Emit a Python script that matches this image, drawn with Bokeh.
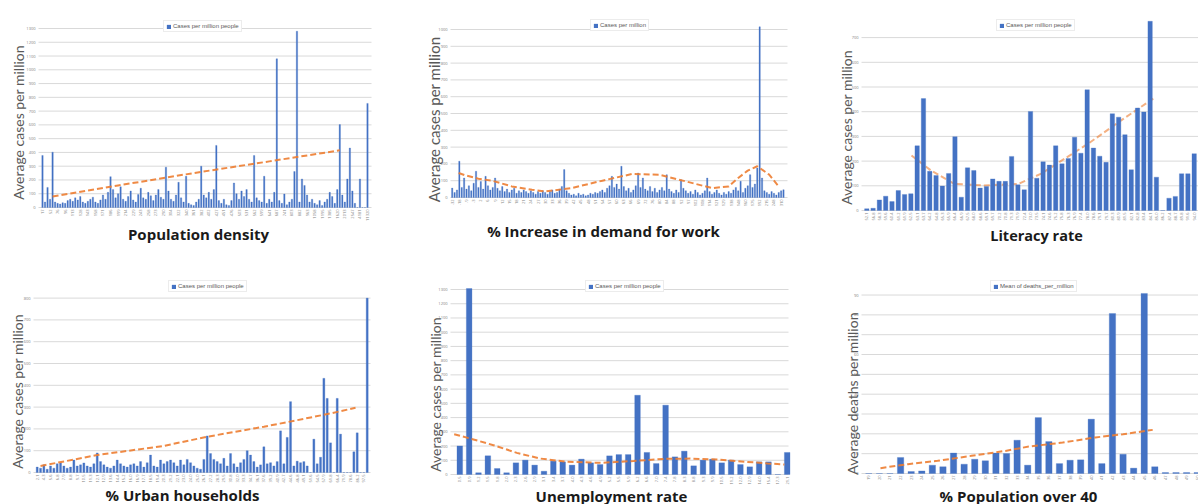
import numpy as np
from bokeh.plotting import figure
from bokeh.layouts import row, column
from bokeh.models import Range1d
from bokeh.core.properties import value
from bokeh.embed import file_html
from bokeh.resources import INLINE

# ---------------- DATA ----------------
POP_DENSITY_CASES = [
    378, 40, 146, 60, 402, 40, 30, 25, 35, 30, 50, 60, 45, 70, 55, 80, 40, 30, 45, 60,
    75, 40, 30, 55, 90, 60, 110, 224, 130, 70, 100, 150, 60, 45, 80, 120, 55, 40, 95, 140,
    70, 60, 110, 85, 50, 90, 130, 75, 60, 293, 120, 60, 45, 90, 183, 70, 40, 227, 30, 20,
    15, 40, 60, 300, 90, 70, 110, 60, 130, 451, 50, 30, 60, 20, 15, 50, 178, 100, 60, 120,
    80, 130, 60, 40, 378, 70, 50, 40, 227, 30, 60, 40, 110, 1080, 50, 30, 98, 20, 40, 60,
    261, 1280, 40, 207, 160, 90, 40, 60, 30, 20, 50, 15, 40, 60, 110, 80, 30, 130, 602, 90,
    40, 207, 432, 120, 30, 0, 207, 0, 0, 756]
POP_DENSITY_LABELS = [
    "17", "52", "76", "96", "113", "128", "143", "158", "171", "186", "199", "214", "229",
    "243", "258", "273", "290", "304", "322", "340", "361", "382", "402", "427", "451",
    "476", "503", "531", "562", "599", "641", "687", "741", "803", "882", "963", "1058",
    "1195", "1385", "1620", "2013", "2547", "4181", "11320"]
POP_TREND_X = [4, 30, 60, 90, 118]
POP_TREND_Y = [80, 160, 250, 335, 415]

WORK_CASES = [
    56, 30, 45, 216, 60, 116, 50, 70, 40, 85, 156, 60, 95, 50, 126, 70, 45, 60, 116, 55,
    40, 65, 35, 50, 30, 45, 55, 25, 40, 30, 45, 35, 25, 40, 30, 20, 35, 25, 40, 30,
    20, 35, 45, 25, 30, 50, 66, 166, 40, 25, 15, 20, 10, 25, 15, 20, 10, 15, 25, 20,
    30, 25, 35, 45, 30, 55, 70, 126, 60, 80, 50, 186, 65, 40, 55, 30, 45, 70, 146, 60,
    116, 50, 40, 65, 35, 55, 30, 45, 60, 40, 136, 50, 35, 25, 45, 30, 106, 55, 40, 25,
    35, 20, 45, 30, 15, 25, 40, 116, 35, 20, 30, 45, 25, 15, 30, 20, 35, 25, 45, 60,
    40, 96, 30, 55, 70, 136, 60, 80, 176, 1016, 116, 40, 30, 20, 35, 25, 15, 30, 40, 46]
WORK_LABELS = [
    "-32", "-18", "-9", "-3", "2", "6", "9", "12", "15", "18", "21", "24", "27", "30",
    "33", "36", "39", "42", "45", "48", "51", "54", "57", "60", "63", "66", "69", "72",
    "76", "80", "84", "88", "92", "97", "102", "108", "114", "121", "129", "138", "148",
    "160", "175", "192", "215", "248", "310"]
WORK_TREND_X = [2.7, 5.5, 11, 16.7, 25, 33.5, 39, 50, 63, 75.5, 86.7, 98, 109, 116, 120, 124, 128, 133, 137]
WORK_TREND_Y = [146, 132, 112, 100, 66, 46, 36, 56, 100, 140, 136, 96, 56, 66, 116, 160, 186, 136, 66]

LITERACY_CASES = [
    7, 9, 43, 58, 36, 81, 65, 68, 262, 453, 159, 142, 99, 150, 299, 54, 173, 162, 91, 97,
    128, 118, 118, 219, 104, 84, 401, 131, 197, 184, 262, 189, 211, 297, 232, 489, 253, 220,
    195, 392, 378, 307, 165, 415, 399, 766, 135, 0, 50, 57, 149, 149, 230]
LITERACY_LABELS = [
    "52.1", "56.8", "58.3", "59.6", "60.4", "61.2", "61.9", "62.5", "63.1", "63.7",
    "64.2", "64.8", "65.3", "65.9", "66.4", "66.9", "67.5", "68.0", "68.6", "69.1",
    "69.7", "70.2", "70.8", "71.3", "71.9", "72.4", "73.0", "73.5", "74.1", "74.6",
    "75.2", "75.8", "76.3", "76.9", "77.4", "78.0", "78.6", "79.1", "79.7", "80.3",
    "80.9", "81.5", "82.1", "82.8", "83.4", "84.1", "85.0", "86.2", "87.4", "88.7",
    "89.8", "91.6", "94.0"]
LITERACY_TREND_X = [7.1, 10.2, 13.9, 18.6, 24.1, 27.7, 35.3, 40.8, 45.5]
LITERACY_TREND_Y = [223, 162, 108, 101, 108, 149, 273, 372, 453]

URBAN_CASES = [
    25, 20, 35, 15, 30, 20, 40, 44, 30, 20, 25, 57, 30, 35, 44, 30, 25, 40, 90, 50,
    35, 25, 20, 30, 57, 40, 30, 25, 35, 40, 30, 50, 25, 45, 80, 30, 25, 57, 40, 50,
    57, 45, 30, 57, 35, 60, 45, 30, 20, 15, 60, 168, 87, 60, 50, 40, 65, 30, 87, 40,
    25, 45, 60, 100, 80, 50, 25, 35, 118, 40, 45, 30, 50, 191, 40, 161, 325, 30, 52, 45,
    50, 30, 0, 153, 40, 70, 432, 340, 136, 0, 340, 176, 0, 0, 0, 95, 182, 0, 0, 800]
URBAN_LABELS = [
    "2.1", "4.3", "5.6", "6.8", "7.9", "8.8", "9.7", "10.5", "11.3", "12.1", "12.9",
    "13.6", "14.4", "15.2", "16.0", "16.9", "17.7", "18.5", "19.4", "20.3", "21.2",
    "22.1", "23.0", "24.0", "25.0", "26.1", "27.2", "28.3", "29.5", "30.8", "32.0",
    "33.3", "34.7", "36.1", "37.6", "39.2", "40.9", "42.7", "44.6", "46.8", "49.1",
    "51.6", "54.5", "57.9", "61.8", "66.4", "71.9", "78.6", "86.2", "97.5"]
URBAN_TREND_X = [1, 18, 38, 51, 68, 78, 88, 95.5]
URBAN_TREND_Y = [30, 80, 122, 164, 210, 240, 271, 297]

UNEMP_CASES = [
    201, 1307, 12, 131, 42, 12, 82, 101, 66, 23, 94, 89, 66, 108, 82, 70, 131, 140,
    140, 557, 155, 77, 487, 124, 164, 61, 101, 108, 82, 101, 70, 54, 89, 89, 0, 155]
UNEMP_LABELS = [
    "0.5", "0.9", "1.2", "1.5", "1.8", "2.0", "2.3", "2.6", "2.9", "3.1", "3.4", "3.7",
    "4.0", "4.3", "4.6", "4.9", "5.2", "5.5", "5.9", "6.2", "6.6", "7.0", "7.4", "7.8",
    "8.3", "8.8", "9.3", "9.9", "10.5", "11.2", "12.0", "12.9", "14.0", "15.4", "17.3", "21.1"]
UNEMP_TREND_X = [-0.6, 1.1, 3.6, 6.1, 8.6, 11.5, 15.1, 18.6, 21.9, 24.7, 27.6, 30.4, 32.9, 34.7]
UNEMP_TREND_Y = [283, 253, 206, 152, 112, 89, 82, 95, 110, 112, 105, 90, 78, 70]

AGE40_DEATHS = [
    0, 0, 0, 8.1, 1.0, 1.3, 4.2, 3.4, 10.3, 4.7, 7.2, 6.4, 10.3, 10.1, 16.8, 4.2,
    28.2, 16.1, 5.0, 6.7, 6.9, 27.4, 5.0, 80.7, 9.7, 2.7, 90.8, 3.4, 0.5, 0.5, 0.5, 0.5]
AGE40_LABELS = [
    "19", "20", "21", "22", "23", "24", "25", "26", "27", "28", "29", "30", "31", "32",
    "33", "34", "35", "36", "37", "38", "39", "40", "41", "42", "43", "44", "45", "46",
    "47", "48", "49", "50"]
AGE40_TREND_X = [1.1, 3.7, 6.5, 9.7, 12.9, 15.1, 18.3, 21.4, 24, 26.8]
AGE40_TREND_Y = [2.7, 4.7, 6.4, 8.9, 11.4, 13.6, 15.6, 18.2, 19.8, 22.0]

# ---------------- LAYOUT / STYLE ----------------
BAR = "#4472C4"
TREND = "#ED7D31"
GRID = "#d9d9d9"
COLS = [(0, 400), (400, 798), (798, 1198)]
ROWS = [(0, 250), (250, 504)]

# plot = (left, right, baseline) window px; bars = first/last bar centre px
PANELS = [
    dict(row=0, col=0, vals=POP_DENSITY_CASES, labels=POP_DENSITY_LABELS, lstep=3,
         tx=POP_TREND_X, ty=POP_TREND_Y, plot=(38, 371, 207), bars=(42, 367),
         unit_px=13.77, ystep=100, ymax=1300, bw=0.55,
         ylab="Average cases per million", ypos=(18, 122), ysize="14px",
         legend="Cases per million people", lpos=(163, 32),
         title="Population density", tpos=(198, 233), tsize="15px", trend_front=True),
    dict(row=0, col=1, vals=WORK_CASES, labels=WORK_LABELS, lstep=3,
         tx=WORK_TREND_X, ty=WORK_TREND_Y, plot=(450, 787, 197), bars=(451.7, 783),
         unit_px=16.8, ystep=100, ymax=1000, bw=0.55,
         ylab="Average cases per million", ypos=(433, 119), ysize="15px",
         legend="Cases per million", lpos=(590, 31),
         title="% Increase in demand for work", tpos=(603, 230), tsize="15px", trend_front=True),
    dict(row=0, col=2, vals=LITERACY_CASES, labels=LITERACY_LABELS, lstep=1,
         tx=LITERACY_TREND_X, ty=LITERACY_TREND_Y, plot=(861, 1198, 210), bars=(866.3, 1193.7),
         unit_px=24.7, ystep=100, ymax=700, bw=0.7,
         ylab="Average cases per million", ypos=(846, 127), ysize="14px",
         legend="Cases per million people", lpos=(996, 31),
         title="Literacy rate", tpos=(1036, 235), tsize="14.5px", trend_front=False),
    dict(row=1, col=0, vals=URBAN_CASES, labels=URBAN_LABELS, lstep=2,
         tx=URBAN_TREND_X, ty=URBAN_TREND_Y, plot=(33, 370, 472), bars=(36.7, 366.7),
         unit_px=21.8, ystep=100, ymax=800, bw=0.6,
         ylab="Average cases per million", ypos=(17, 391), ysize="14px",
         legend="Cases per million people", lpos=(168, 292),
         title="% Urban households", tpos=(182, 494), tsize="15px", trend_front=True),
    dict(row=1, col=1, vals=UNEMP_CASES, labels=UNEMP_LABELS, lstep=1,
         tx=UNEMP_TREND_X, ty=UNEMP_TREND_Y, plot=(450, 788, 474), bars=(459.3, 786.7),
         unit_px=14.23, ystep=100, ymax=1300, bw=0.6,
         ylab="Average cases per million", ypos=(435, 394), ysize="14px",
         legend="Cases per million people", lpos=(585, 292),
         title="Unemployment rate", tpos=(611, 495), tsize="15px", trend_front=True),
    dict(row=1, col=2, vals=AGE40_DEATHS, labels=AGE40_LABELS, lstep=1,
         tx=AGE40_TREND_X, ty=AGE40_TREND_Y, plot=(861, 1198, 473), bars=(868.3, 1196.7),
         unit_px=19.83, ystep=10, ymax=90, bw=0.6,
         ylab="Average deaths per million", ypos=(852, 393), ysize="14px",
         legend="Mean of deaths_per_million", lpos=(990, 292),
         title="% Population over 40", tpos=(1018, 495), tsize="15px", trend_front=True),
]


def build(s):
    cx0, cx1 = COLS[s["col"]]
    cy0, cy1 = ROWS[s["row"]]
    x0, x1, yb = s["plot"]
    n = len(s["vals"])
    b0, b1 = s["bars"]
    step = (b1 - b0) / (n - 1)
    k = s["ystep"] / s["unit_px"]          # data units per pixel (y)

    def dx(px):
        return (px - b0) / step

    def dy(py):
        return (yb - py) * k

    p = figure(width=cx1 - cx0, height=cy1 - cy0, output_backend="svg",
               toolbar_location=None, x_axis_location=None, y_axis_location=None,
               x_range=Range1d(dx(cx0), dx(cx1)), y_range=Range1d(dy(cy1), dy(cy0)),
               min_border=0)
    p.outline_line_color = None
    p.background_fill_color = "white"
    p.grid.visible = False
    p.title.visible = False

    # value gridlines and value tick labels
    yt = list(np.arange(0, s["ymax"] + s["ystep"] / 2, s["ystep"]))
    m = len(yt)
    p.segment(x0=[dx(x0)] * m, x1=[dx(x1)] * m, y0=yt, y1=yt, line_color=GRID, line_width=1)
    p.text(x=[dx(x0 - 3)] * m, y=yt, text=[f"{t:g}" for t in yt], text_align="right",
           text_baseline="middle", text_font=value("Open Sans"), text_font_size="4px",
           text_color="#7f7f7f")

    idx = list(range(n))

    def trend():
        p.line(s["tx"], s["ty"], line_color=TREND, line_width=2, line_dash="6 3",
               line_alpha=0.9 if s["trend_front"] else 0.6)

    if not s["trend_front"]:
        trend()
    p.vbar(x=idx, top=s["vals"], width=s["bw"], fill_color=BAR, line_color=BAR,
           line_width=0.3, legend_label=s["legend"])
    if s["trend_front"]:
        trend()

    # category tick labels (vertical, below the baseline)
    tick_pos = idx[::s["lstep"]]
    labs = s["labels"][:len(tick_pos)]
    tick_pos = tick_pos[:len(labs)]
    p.text(x=tick_pos, y=[dy(yb + 2)] * len(tick_pos), text=labs, angle=np.pi / 2,
           text_align="right", text_baseline="middle", text_font=value("Open Sans"),
           text_font_size="4px", text_color="#7f7f7f")

    # value axis title
    yx, yy = s["ypos"]
    p.text(x=[dx(yx)], y=[dy(yy)], text=[s["ylab"]], angle=np.pi / 2,
           text_align="center", text_baseline="middle", text_font=value("Lato"),
           text_font_size=s["ysize"], text_color="#595959")

    # category axis title
    tx, ty = s["tpos"]
    p.text(x=[dx(tx)], y=[dy(ty)], text=[s["title"]], text_align="center",
           text_baseline="middle", text_font=value("Open Sans"),
           text_font_style="bold", text_font_size=s["tsize"], text_color="#1a1a1a")

    lg = p.legend[0]
    lx, lyb = s["lpos"]
    lg.location = (lx - cx0, cy1 - lyb)
    lg.margin = 0
    lg.padding = 2
    lg.spacing = 0
    lg.label_text_font_size = "6px"
    lg.label_text_color = "#595959"
    lg.label_height = 6
    lg.label_standoff = 2
    lg.glyph_height = 5
    lg.glyph_width = 5
    lg.border_line_color = GRID
    lg.background_fill_alpha = 1.0
    return p


figs = [build(s) for s in PANELS]
layout = column(row(*figs[0:3]), row(*figs[3:6]))

open("out.html", "w").write(file_html(layout, INLINE))
